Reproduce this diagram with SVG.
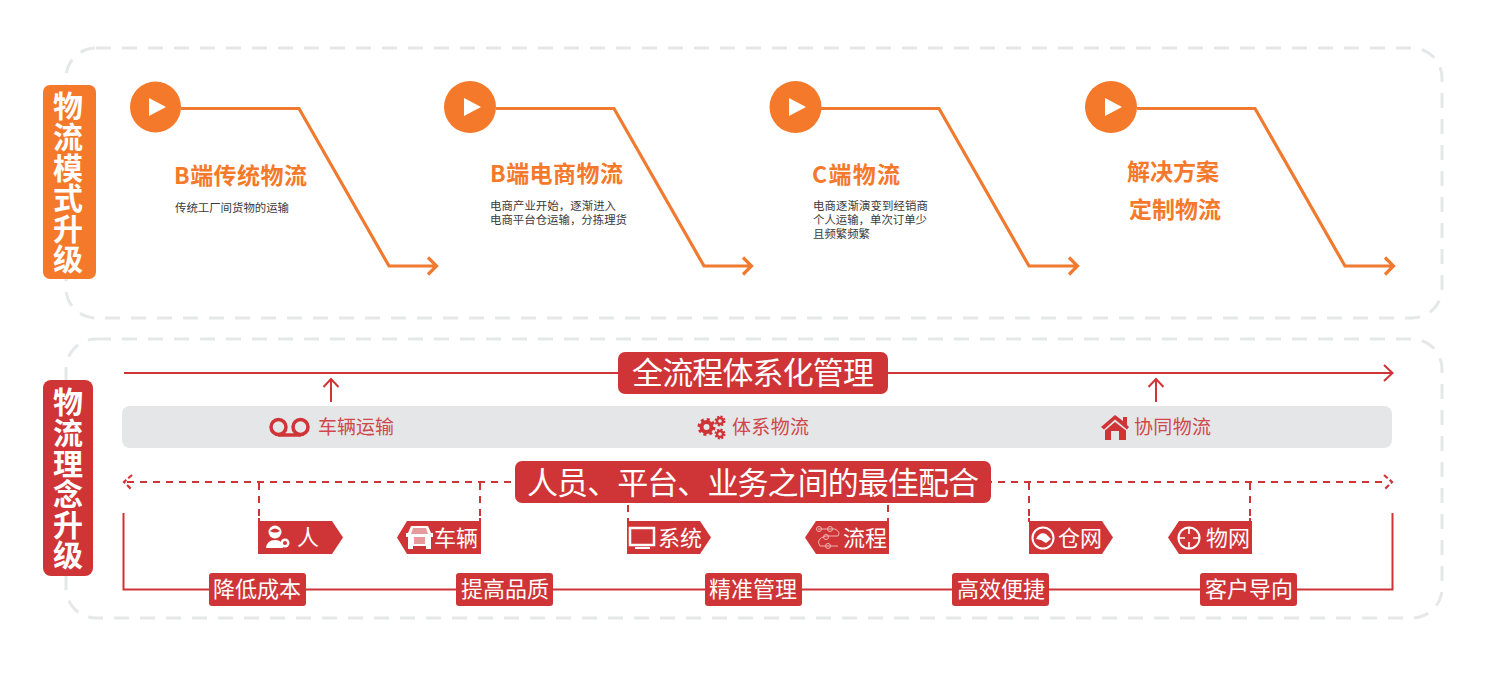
<svg xmlns="http://www.w3.org/2000/svg" width="1485" height="677" viewBox="0 0 1485 677">
<style>
text{font-family:"Noto Sans CJK SC","Noto Sans",sans-serif}
.frame{fill:none;stroke:#e6e7e8;stroke-width:3;stroke-dasharray:15 11}
.or{fill:#f5792b}
.rd{fill:#cf3437}
.ol{fill:none;stroke:#ef7a30;stroke-width:3.200;stroke-linejoin:miter}
.rl{fill:none;stroke:#cf3437;stroke-width:2}
.dl{fill:none;stroke:#cf3437;stroke-width:2;stroke-dasharray:7 6}
.dh{fill:none;stroke:#cf3437;stroke-width:2.200;stroke-dasharray:5 2.500}
.side{fill:#fff;font-size:30px;font-weight:700;writing-mode:vertical-rl;letter-spacing:.6px}
.tt{fill:#f5792b;font-size:23px;font-weight:700}
.ds{fill:#3a3a3a;font-size:11.400px}
.w{fill:#fff}
.big{fill:#fff;font-size:31px;text-anchor:middle}
.cap{fill:#d0464a;font-size:19px}
.tag{fill:#fff;font-size:22px;text-anchor:middle}
.lbl{fill:#fff;font-size:22px;text-anchor:middle}
.ic{fill:none;stroke:#fff;stroke-width:1.600}
.gr{fill:none;stroke:#cf3437}
</style>
<rect class="frame" x="66" y="48" width="1376" height="270" rx="30"/>
<rect class="frame" x="66" y="339" width="1376" height="279" rx="30"/>
<g id="side-mode"><rect class="or" x="43" y="85" width="53" height="194" rx="7"/>
<text class="side" x="68" y="91">物流模式升级</text></g>
<g id="side-concept"><rect class="rd" x="43" y="380" width="50" height="196" rx="8"/>
<text class="side" x="68" y="387">物流理念升级</text></g>
<g id="connectors">
<path class="ol" d="M181 108.500H299L389 266H436M428 257.500L436.500 266L428 274.500"/>
<path class="ol" d="M496 108.500H614L704 266H751M743 257.500L751.500 266L743 274.500"/>
<path class="ol" d="M821 108.500H939L1029 266H1077M1069 257.500L1077.500 266L1069 274.500"/>
<path class="ol" d="M1137 108.500H1255L1345 266H1393M1385 257.500L1393.500 266L1385 274.500"/>
<path class="rl" d="M124 373H1392M1384 365L1392.500 373L1384 381"/>
<path class="rl" d="M331 402V380M323.500 387L331 379L338.500 387M1156 402V380M1148.500 387L1156 379L1163.500 387"/>
<path class="dl" d="M127 482H1388"/>
<path class="dh" d="M132 475L124 482L132 490M1384 475L1392 482L1384 490"/>
<path class="dl" d="M259 483V516M480 483V516M628 505V512M888 505V512M1029 483V516M1250 483V516"/>
<path class="rl" d="M259 518V522M480 518V522M628 518V522M888 518V522M1029 518V522M1250 518V522"/>
<path class="rl" d="M123.500 513V589.500H1392.500V513"/>
</g>
<g id="step1"><circle class="or" cx="155.500" cy="107" r="25.500"/><path class="w" d="M149 98L166 107L149 116Z"/>
<text class="tt" x="174" y="184" textLength="133">B端传统物流</text><text class="ds" x="175" y="212" textLength="114">传统工厂间货物的运输</text></g>
<g id="step2"><circle class="or" cx="470" cy="107" r="26"/><path class="w" d="M464 98L481 107L464 116Z"/>
<text class="tt" x="490" y="182" textLength="133">B端电商物流</text><text class="ds" x="490" y="210" textLength="126">电商产业开始，逐渐进入</text><text class="ds" x="490" y="224" textLength="137">电商平台仓运输，分拣理货</text></g>
<g id="step3"><circle class="or" cx="795.500" cy="107" r="26"/><path class="w" d="M789 98L806 107L789 116Z"/>
<text class="tt" x="812" y="183" textLength="88">C端物流</text><text class="ds" x="813" y="210" textLength="115">电商逐渐演变到经销商</text><text class="ds" x="813" y="224" textLength="114">个人运输，单次订单少</text><text class="ds" x="813" y="238" textLength="57">且频繁频繁</text></g>
<g id="step4"><circle class="or" cx="1111" cy="107" r="26"/><path class="w" d="M1105 98L1122 107L1105 116Z"/>
<text class="tt" x="1127" y="180" textLength="92">解决方案</text><text class="tt" x="1129" y="218" textLength="92">定制物流</text></g>
<g id="band"><rect x="122" y="406" width="1270" height="42" rx="8" fill="#e5e6e8"/>
<g fill="none" stroke="#cf3437" stroke-width="3.500"><circle cx="278.500" cy="427" r="7.500"/><circle cx="300.500" cy="427" r="7.500"/><path d="M278 435H301"/></g>
<text class="cap" x="318" y="434" textLength="76">车辆运输</text>
<circle class="gr" cx="706.500" cy="427" r="5" stroke-width="4"/><circle class="gr" cx="706.500" cy="427" r="7.500" stroke-width="3" stroke-dasharray="3 2.890"/>
<circle class="gr" cx="720" cy="421" r="3" stroke-width="2.400"/><circle class="gr" cx="720" cy="421" r="4.500" stroke-width="2" stroke-dasharray="2 1.530"/>
<circle class="gr" cx="720" cy="434" r="3" stroke-width="2.400"/><circle class="gr" cx="720" cy="434" r="4.500" stroke-width="2" stroke-dasharray="2 1.530"/>
<text class="cap" x="732" y="434" textLength="77">体系物流</text>
<path class="rd" d="M1115 415L1123 421V417H1127V425L1129 427L1127 429.500L1115 419.500L1104 429.500L1101 427ZM1105 430.500L1115 422L1126 430.500V440H1119V431H1111V440H1105Z"/>
<text class="cap" x="1134" y="434" textLength="77">协同物流</text></g>
<g id="title-mgmt"><rect class="rd" x="618" y="352" width="270" height="42" rx="7"/><text class="big" x="753" y="384" textLength="242">全流程体系化管理</text></g>
<g id="title-best"><rect class="rd" x="515" y="461" width="476" height="42" rx="7"/><text class="big" x="753" y="494" textLength="452">人员、平台、业务之间的最佳配合</text></g>
<g id="tag-person"><path class="rd" d="M258 521H332L343 537.500L332 554H258Z"/>
<circle class="w" cx="275" cy="532" r="6.500"/><path class="rd" d="M270 531Q275 526 280 531Q275 534 270 531Z"/><path class="w" d="M266 548Q267 540 275 540Q281 540 283 545V548Z"/><circle class="w" cx="285" cy="543" r="4.500"/><circle cx="285" cy="543" r="2" fill="#cf3437"/>
<text class="tag" x="308" y="545">人</text></g>
<g id="tag-vehicle"><path class="rd" d="M481 521H407L397 537.500L407 554H481Z"/>
<path class="w" d="M411 526H428L431 533H433V537H431V549H426V546H413V549H408V537H406V533H408Z"/><path fill="#e69a9b" d="M413 528H426L428 534H411ZM414 537H425V544H414Z"/>
<text class="tag" x="456" y="546">车辆</text></g>
<g id="tag-system"><path class="rd" d="M627 521H700L711 537.500L700 554H627Z"/>
<rect x="630" y="528" width="24" height="17" fill="none" stroke="#fff" stroke-width="2.500"/><path class="w" d="M635 547H650V549H635Z"/>
<text class="tag" x="680" y="546">系统</text></g>
<g id="tag-flow"><path class="rd" d="M889 521H816L805 537.500L816 554H889Z"/>
<path fill="none" stroke="#f0b5b5" stroke-width="1" d="M818 529H835Q841 532 838 536H826Q815 539 820 546H838"/><circle cx="819" cy="529" r="2.500" fill="none" stroke="#f0b5b5"/><circle cx="830" cy="529" r="2.500" fill="none" stroke="#f0b5b5"/><circle cx="826" cy="537" r="2.500" fill="none" stroke="#f0b5b5"/><circle cx="828" cy="546" r="2.500" fill="none" stroke="#f0b5b5"/>
<text class="tag" x="865" y="546">流程</text></g>
<g id="tag-warehouse"><path class="rd" d="M1029 521H1102L1113 537.500L1102 554H1029Z"/>
<circle cx="1043" cy="538" r="10.500" fill="none" stroke="#fff" stroke-width="2"/><path class="w" d="M1036 539Q1040 531 1046 534L1051 539L1046 543L1041 540Z"/>
<text class="tag" x="1080" y="546">仓网</text></g>
<g id="tag-net"><path class="rd" d="M1252 521H1179L1168 537.500L1179 554H1252Z"/>
<circle cx="1189" cy="538" r="10.500" fill="none" stroke="#fff" stroke-width="2"/><path class="ic" stroke-width="2" d="M1189 527V534M1189 542V549M1178 538H1185M1193 538H1200"/>
<text class="tag" x="1228" y="546">物网</text></g>
<g id="lbl1"><rect class="rd" x="209" y="573" width="97" height="33" rx="3"/><text class="lbl" x="257" y="597">降低成本</text></g>
<g id="lbl2"><rect class="rd" x="456" y="573" width="97" height="33" rx="3"/><text class="lbl" x="505" y="597">提高品质</text></g>
<g id="lbl3"><rect class="rd" x="705" y="573" width="97" height="33" rx="3"/><text class="lbl" x="753" y="597">精准管理</text></g>
<g id="lbl4"><rect class="rd" x="952" y="573" width="97" height="33" rx="3"/><text class="lbl" x="1001" y="597">高效便捷</text></g>
<g id="lbl5"><rect class="rd" x="1200" y="573" width="97" height="33" rx="3"/><text class="lbl" x="1249" y="597">客户导向</text></g>
</svg>
